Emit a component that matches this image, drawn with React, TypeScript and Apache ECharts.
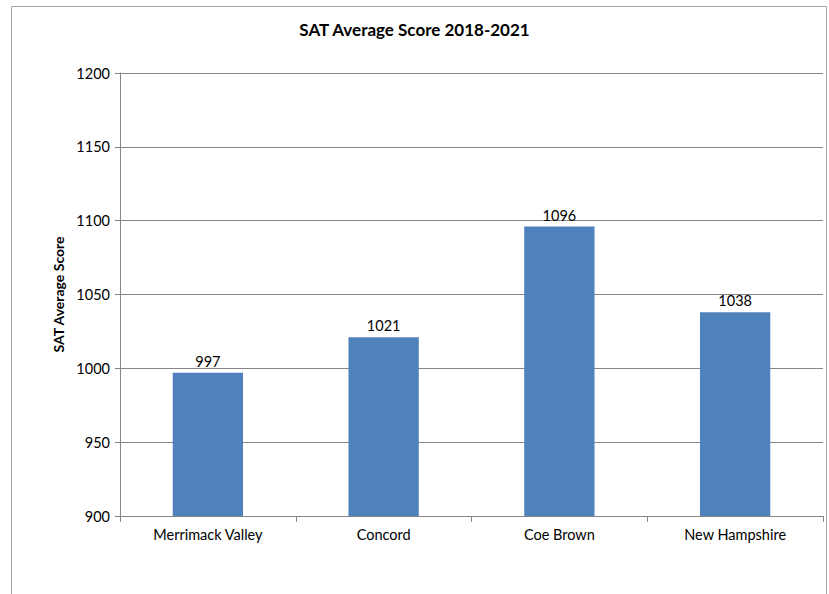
import React, { useEffect, useRef } from "react";
import * as echarts from "echarts";

const categories = ["Merrimack Valley", "Concord", "Coe Brown", "New Hampshire"];
const scores = [997, 1021, 1096, 1038];
const titleText = "SAT Average Score 2018-2021";
const yAxisName = "SAT Average Score";

export default function App() {
  const ref = useRef<HTMLDivElement>(null);
  useEffect(() => {
    document.body.style.margin = "0";
    const chart = echarts.init(ref.current!, null, { renderer: "svg" });
    const font = "Lato, 'Open Sans', sans-serif";
    chart.setOption({
      animation: false,
      backgroundColor: "#ffffff",
      title: {
        text: titleText,
        left: "center",
        top: 16,
        textStyle: { fontFamily: font, fontSize: 17, fontWeight: "bold", color: "#000" },
      },
      graphic: [
        {
          type: "rect",
          shape: { x: 11.5, y: 6.5, width: 815, height: 600 },
          style: { fill: "none", stroke: "#a6a6a6", lineWidth: 1 },
          silent: true,
        },
      ],
      grid: { left: 120, right: 6, top: 73, bottom: 78 },
      xAxis: {
        type: "category",
        data: categories,
        boundaryGap: true,
        axisLine: { lineStyle: { color: "#868686" } },
        axisTick: { show: true, length: 6, lineStyle: { color: "#868686" } },
        axisLabel: { fontFamily: font, fontSize: 14.5, color: "#000", margin: 11 },
      },
      yAxis: {
        type: "value",
        min: 900,
        max: 1200,
        interval: 50,
        name: yAxisName,
        nameLocation: "middle",
        nameGap: 54,
        nameTextStyle: { fontFamily: font, fontSize: 14, fontWeight: "bold", color: "#000" },
        axisLine: { show: true, lineStyle: { color: "#868686" } },
        axisTick: { show: true, length: 5, lineStyle: { color: "#868686" } },
        axisLabel: {
          fontFamily: font,
          fontSize: 14.5,
          color: "#000",
          margin: 10,
          formatter: (v: number) => String(v),
        },
        splitLine: { lineStyle: { color: "#868686" } },
      },
      series: [
        {
          type: "bar",
          data: scores,
          barWidth: "40%",
          itemStyle: { color: "#4f81bd" },
          label: {
            show: true,
            position: "top",
            distance: 4,
            fontFamily: font,
            fontSize: 14.5,
            color: "#000",
          },
        },
      ],
    });
    return () => chart.dispose();
  }, []);
  return <div ref={ref} style={{ width: 829, height: 594 }} />;
}
